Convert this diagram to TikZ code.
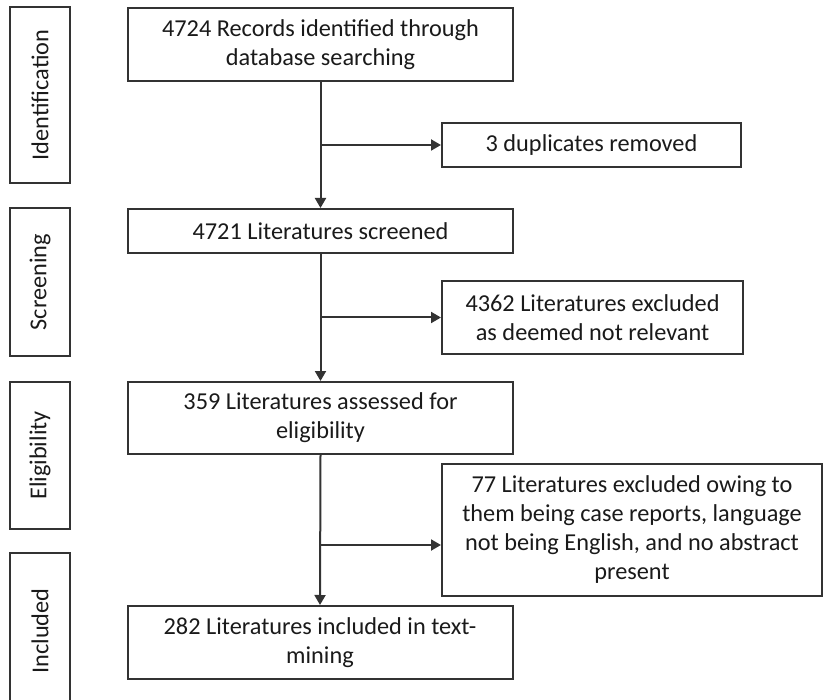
\documentclass[tikz,border=0pt]{standalone}
\usepackage{fontspec}
\setmainfont{Carlito}
\usetikzlibrary{arrows.meta}
\definecolor{linec}{HTML}{333333}
\definecolor{textc}{HTML}{1A1A1A}
\begin{document}
\begin{tikzpicture}[x=1pt,y=-1pt,
  box/.style={draw=linec, line width=2pt, align=center, inner sep=0pt,
    font=\fontsize{24.3}{29}\selectfont, text=textc},
  stage/.style={box, rotate=90, minimum height=60pt},
  flow/.style={draw=linec, line width=2pt, -{Triangle[length=10pt,width=11pt]}},
  link/.style={draw=linec, line width=2pt}]
\clip (0,0) rectangle (824,700);
% stage labels
\node[stage, minimum width=176pt] (sid) at (40,95) {Identification};
\node[stage, minimum width=148pt] (ssc) at (40,282) {Screening};
\node[stage, minimum width=147pt] (sel) at (40,455.5) {Eligibility};
\node[stage, minimum width=156pt] (sin) at (40,631) {Included};
% main boxes
\node[box, minimum width=385pt, minimum height=73pt] (b1) at (320.5,44.5)
  {4724 Records identified through\\database searching};
\node[box, minimum width=385pt, minimum height=44pt] (b2) at (320.5,231)
  {4721 Literatures screened};
\node[box, minimum width=385pt, minimum height=72pt] (b3) at (320.5,418)
  {359 Literatures assessed for\\eligibility};
\node[box, minimum width=385pt, minimum height=73pt] (b4) at (320,642.5)
  {282 Literatures included in text-\\mining};
% side boxes
\node[box, minimum width=299pt, minimum height=44pt] (e1) at (591.5,145)
  {3 duplicates removed};
\node[box, minimum width=301pt, minimum height=73pt] (e2) at (592.5,317.5)
  {4362 Literatures excluded\\as deemed not relevant};
\node[box, minimum width=380pt, minimum height=132pt] (e3) at (632,530)
  {77 Literatures excluded owing to\\them being case reports, language\\not being English, and no abstract\\present};
% connectors
\draw[flow] (b1.south) -- (b2.north);
\draw[flow] (b2.south) -- (b3.north);
\draw[flow] (b3.south) -- (b4.north);
\coordinate (j1) at (b1.south |- e1.west);
\coordinate (j2) at (b2.south |- e2.west);
\coordinate (j3) at ([yshift=-15pt]b3.south |- e3.west);
\draw[flow] (j1) -- (e1.west);
\draw[flow] (j2) -- (e2.west);
\draw[flow] (j3) -- (j3 -| e3.west);
\end{tikzpicture}
\end{document}
